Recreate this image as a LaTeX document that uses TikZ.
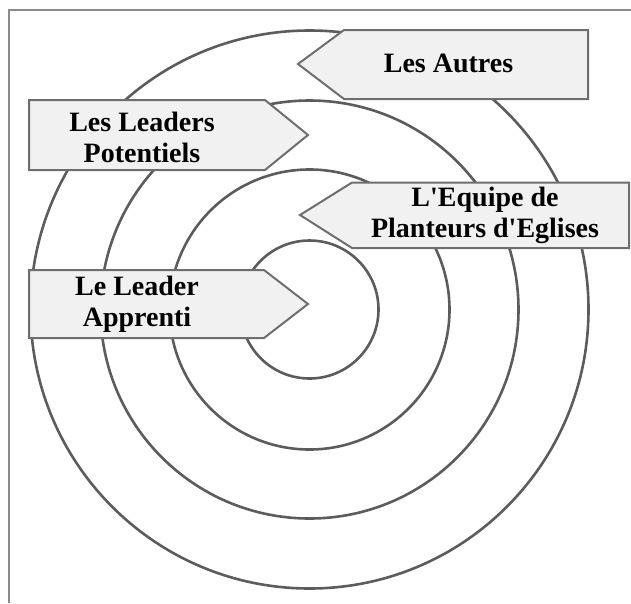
\documentclass[tikz,border=0pt]{standalone}
\usepackage{fontspec}
\setmainfont{Liberation Serif}[Ligatures=TeXOff]
\definecolor{framegray}{HTML}{8A8A8A}
\definecolor{ringgray}{HTML}{5C5C5C}
\definecolor{boxgray}{HTML}{6E6E6E}
\definecolor{boxfill}{HTML}{F1F1F1}
\begin{document}
\begin{tikzpicture}[x=1pt,y=-1pt,
    ring/.style={draw=ringgray,line width=2.6pt},
    labelbox/.style={draw=boxgray,fill=boxfill,line width=2pt,line join=miter},
    boxtext/.style={font=\fontsize{28}{30.5}\selectfont\bfseries,align=center,anchor=base,inner sep=0pt}]
  \useasboundingbox (0,0) rectangle (631,603);
  \draw[framegray,line width=1.4pt] (631,10) -- (9,10) -- (9,603);
  \coordinate (centre) at (309.5,309.5);
  \foreach \r in {69,140,209,279}
    \draw[ring] (centre) circle[radius=\r];
  % boxes
  \draw[labelbox] (298,64) -- (344,30) -- (588,30) -- (588,99) -- (344,99) -- cycle;
  \draw[labelbox] (29,100) -- (265,100) -- (308,135) -- (265,170) -- (29,170) -- cycle;
  \draw[labelbox] (300,215) -- (352,182.5) -- (629,182.5) -- (629,248) -- (352,248) -- cycle;
  \draw[labelbox] (29,270) -- (264,270) -- (308,304) -- (264,338) -- (29,338) -- cycle;
  % texts, placed at the baseline of the last line
  \node[boxtext] (autres) at (448.5,72) {Les Autres};
  \node[boxtext] (potentiels) at (142,162) {Les Leaders\\Potentiels};
  \node[boxtext] (equipe) at (485,237) {L'Equipe de\\Planteurs d'Eglises};
  \node[boxtext] (apprenti) at (137,326) {Le Leader\\Apprenti};
\end{tikzpicture}
\end{document}
